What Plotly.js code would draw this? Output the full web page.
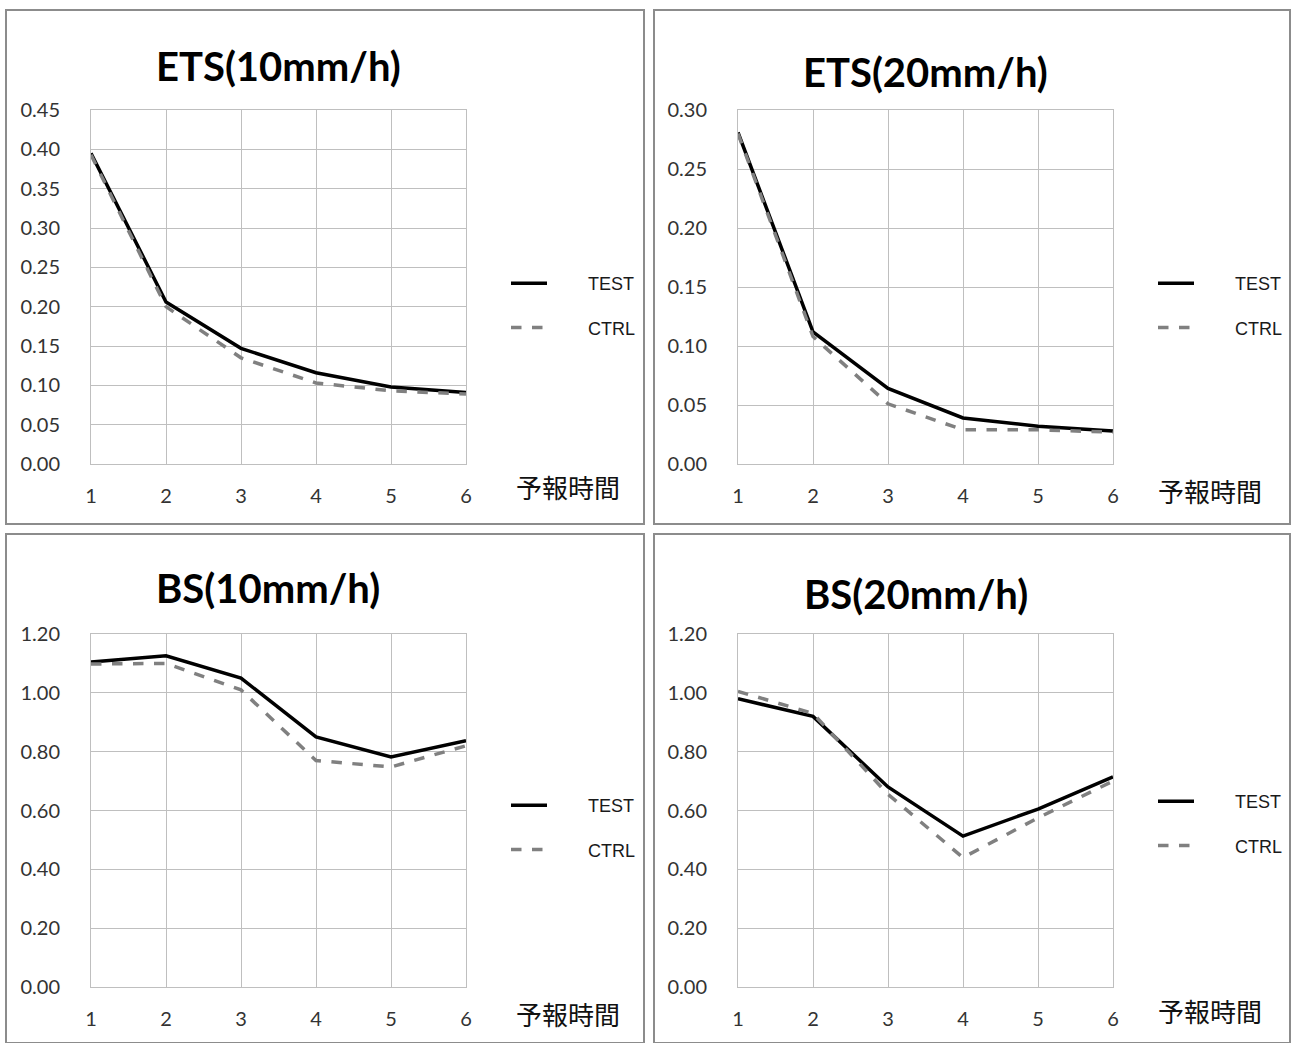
<!DOCTYPE html>
<html>
<head>
<meta charset="utf-8">
<script src="https://cdn.plot.ly/plotly-3.0.1.min.js"></script>
<style>
html,body{margin:0;padding:0;background:#fff;}
#chart{width:1292px;height:1043px;}
</style>
</head>
<body>
<div id="chart"></div>
<script>
// ---- data ----
const hours = [1, 2, 3, 4, 5, 6];
const xTickLabels = ["1", "2", "3", "4", "5", "6"];
const seriesNames = ["TEST", "CTRL"];
const panelTitles = ["ETS(10mm/h)", "ETS(20mm/h)", "BS(10mm/h)", "BS(20mm/h)"];
const xAxisLabel = "予報時間";

const ets10Test = [0.395, 0.206, 0.147, 0.116, 0.098, 0.091];
const ets10Ctrl = [0.393, 0.200, 0.135, 0.103, 0.093, 0.089];
const ets20Test = [0.281, 0.112, 0.064, 0.039, 0.032, 0.028];
const ets20Ctrl = [0.280, 0.108, 0.051, 0.029, 0.029, 0.027];
const bs10Test = [1.105, 1.126, 1.050, 0.850, 0.782, 0.837];
const bs10Ctrl = [1.098, 1.100, 1.010, 0.770, 0.748, 0.820];
const bs20Test = [0.980, 0.920, 0.680, 0.513, 0.605, 0.714];
const bs20Ctrl = [1.005, 0.930, 0.655, 0.440, 0.575, 0.700];

const yTicks1 = [0, 0.05, 0.10, 0.15, 0.20, 0.25, 0.30, 0.35, 0.40, 0.45];
const yTicks2 = [0, 0.05, 0.10, 0.15, 0.20, 0.25, 0.30];
const yTicks3 = [0, 0.20, 0.40, 0.60, 0.80, 1.00, 1.20];

// ---- layout helpers ----
const W = 1292, H = 1043;
const px = v => v / W;
const py = v => 1 - v / H;
// spacing between legend line sample and label (reference has a wide gap)
const legendPad = "\u2002\u2002\u2002\u2002";

const panels = [
  {test: ets10Test, ctrl: ets10Ctrl, ticks: yTicks1, range: [0, 0.45], fmt: ".2f",
   plot: [91, 466, 110, 464], box: [6, 644, 10, 524], title: [278, 66], xlab: [568, 487], leg: [506, 265]},
  {test: ets20Test, ctrl: ets20Ctrl, ticks: yTicks2, range: [0, 0.30], fmt: ".2f",
   plot: [738, 1113, 110, 464], box: [654, 1290, 10, 524], title: [926, 72], xlab: [1210, 490], leg: [1153, 265]},
  {test: bs10Test, ctrl: bs10Ctrl, ticks: yTicks3, range: [0, 1.20], fmt: ".2f",
   plot: [91, 466, 634, 987], box: [6, 644, 534, 1043], title: [268, 588], xlab: [568, 1013], leg: [506, 787]},
  {test: bs20Test, ctrl: bs20Ctrl, ticks: yTicks3, range: [0, 1.20], fmt: ".2f",
   plot: [738, 1113, 634, 987], box: [654, 1290, 534, 1043], title: [916, 594], xlab: [1210, 1010], leg: [1153, 783]}
];

const tickFont = {family: "Lato, 'Open Sans', sans-serif", size: 20, color: "#333"};
const data = [];
const layout = {
  width: W, height: H,
  margin: {l: 0, r: 0, t: 0, b: 0},
  paper_bgcolor: "#fff", plot_bgcolor: "#fff",
  shapes: [], annotations: []
};

panels.forEach((p, i) => {
  const n = i + 1;
  const xa = "xaxis" + (n === 1 ? "" : n);
  const ya = "yaxis" + (n === 1 ? "" : n);
  const xr = "x" + (n === 1 ? "" : n);
  const yr = "y" + (n === 1 ? "" : n);
  const lg = "legend" + (n === 1 ? "" : n);

  data.push({
    x: hours, y: p.test, xaxis: xr, yaxis: yr, name: legendPad + seriesNames[0], mode: "lines",
    line: {color: "#000000", width: 3.5}, legend: lg, legendgroup: "t" + n, hoverinfo: "skip"
  });
  data.push({
    x: hours, y: p.ctrl, xaxis: xr, yaxis: yr, name: legendPad + seriesNames[1], mode: "lines",
    line: {color: "#808080", width: 3.5, dash: "dash"}, legend: lg, legendgroup: "c" + n, hoverinfo: "skip"
  });

  layout[xa] = {
    domain: [px(p.plot[0]), px(p.plot[1])], anchor: yr,
    range: [1, 6], tickvals: hours, ticktext: xTickLabels,
    showgrid: true, gridcolor: "#bfbfbf", gridwidth: 1,
    showline: true, linecolor: "#bfbfbf", linewidth: 1, mirror: true,
    zeroline: false, ticks: "", ticklabelstandoff: 14, tickfont: tickFont, fixedrange: true
  };
  layout[ya] = {
    domain: [py(p.plot[3]), py(p.plot[2])], anchor: xr,
    range: p.range, tickvals: p.ticks, tickformat: p.fmt,
    showgrid: true, gridcolor: "#bfbfbf", gridwidth: 1,
    showline: true, linecolor: "#bfbfbf", linewidth: 1, mirror: true,
    zeroline: false, ticks: "", ticklabelstandoff: 26, tickfont: tickFont, fixedrange: true
  };
  layout[lg] = {
    x: px(p.leg[0]), y: py(p.leg[1]), xanchor: "left", yanchor: "top",
    bgcolor: "rgba(0,0,0,0)", borderwidth: 0,
    font: {family: "'Liberation Sans', Arial, sans-serif", size: 18, color: "#1a1a1a"},
    traceorder: "grouped", tracegroupgap: 18, itemwidth: 36
  };

  layout.shapes.push({
    type: "rect", xref: "paper", yref: "paper",
    x0: px(p.box[0]), x1: px(p.box[1]), y0: py(p.box[3]), y1: py(p.box[2]),
    line: {color: "#8c8c8c", width: 2}, fillcolor: "rgba(0,0,0,0)", layer: "below"
  });
  layout.annotations.push({
    xref: "paper", yref: "paper", x: px(p.title[0]), y: py(p.title[1]),
    xanchor: "center", yanchor: "middle", showarrow: false,
    text: "<b>" + panelTitles[i] + "</b>",
    font: {family: "Lato, 'Open Sans', sans-serif", size: 40, color: "#000"}
  });
  layout.annotations.push({
    xref: "paper", yref: "paper", x: px(p.xlab[0]), y: py(p.xlab[1]),
    xanchor: "center", yanchor: "middle", showarrow: false,
    text: xAxisLabel,
    font: {family: "'Noto Sans CJK JP', sans-serif", size: 26, color: "#111"}
  });
});

Plotly.newPlot("chart", data, layout, {displayModeBar: false, staticPlot: true});
</script>
</body>
</html>
